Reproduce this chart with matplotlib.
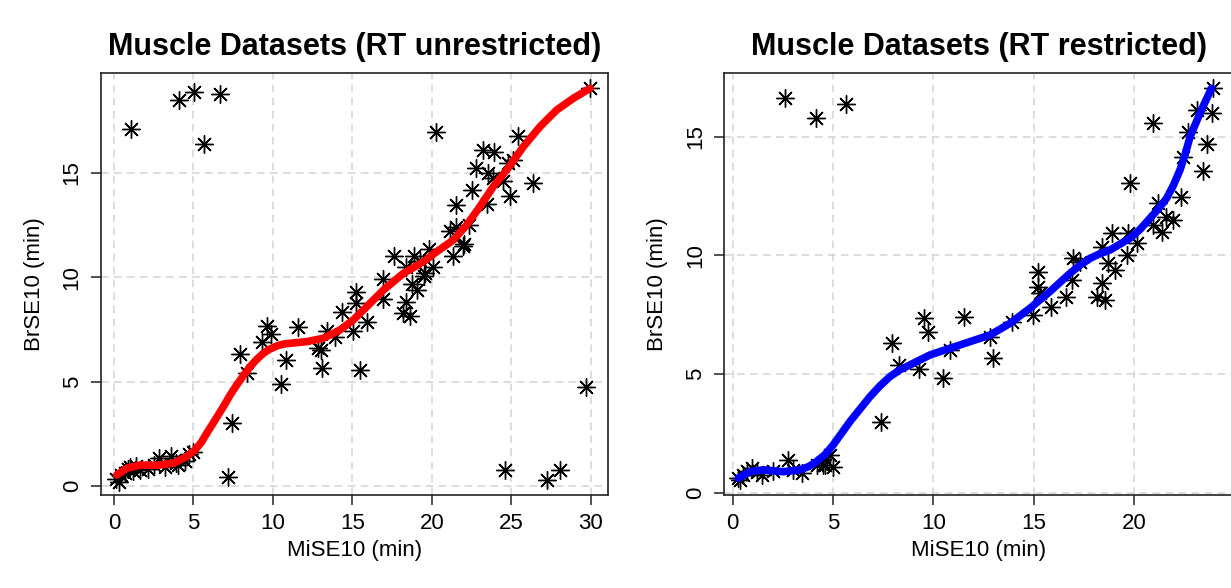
import matplotlib
matplotlib.use("Agg")
import matplotlib.pyplot as plt
import numpy as np

plt.rcParams['font.family'] = ['Liberation Sans', 'DejaVu Sans']

# --- left panel: RT unrestricted ---
unres_x = [1.05, 4.1, 5.05, 6.7, 5.65, 20.25, 25.45, 29.95, 29.7, 24.6, 27.25, 28.05, 7.2, 7.45,
           0.15, 0.3, 0.45, 0.7, 0.85, 1.0, 1.2, 1.4, 1.65, 2.15, 2.5, 2.8, 3.2, 3.6, 3.9, 4.05, 4.45, 4.7, 5.0,
           7.95, 8.35, 9.3, 9.6, 9.85, 10.5, 10.85, 11.6, 12.85, 13.0, 13.1, 13.4, 13.9, 14.35, 15.05,
           15.2, 15.25, 15.5, 15.9,
           16.95, 16.95, 17.6, 18.2, 18.4, 18.4, 18.6, 18.75, 18.9, 19.05, 19.25, 19.5, 19.6, 19.8, 20.1,
           21.15, 21.35, 21.5, 21.55, 21.95, 22.05, 22.35, 22.55, 22.8, 23.2, 23.45, 23.55, 23.9, 23.85,
           24.5, 24.8, 24.95, 25.1, 26.4]
unres_y = [17.1, 18.5, 18.9, 18.8, 16.4, 16.95, 16.75, 19.05, 4.75, 0.75, 0.3, 0.75, 0.45, 3.0,
           0.35, 0.2, 0.55, 0.6, 0.8, 0.9, 0.7, 0.95, 0.75, 0.8, 1.0, 1.35, 0.9, 1.45, 1.1, 1.0, 1.2, 1.55, 1.65,
           6.35, 5.4, 6.9, 7.65, 7.3, 4.9, 6.05, 7.6, 6.6, 6.5, 5.65, 7.45, 7.15, 8.35, 7.45,
           8.75, 9.3, 5.55, 7.85,
           9.9, 8.95, 11.0, 8.3, 8.8, 10.5, 8.15, 9.7, 11.0, 9.4, 10.8, 10.05, 10.2, 11.35, 10.5,
           12.2, 11.0, 13.45, 12.4, 11.5, 11.6, 12.5, 14.2, 15.25, 16.1, 13.5, 15.0, 16.0, 14.75,
           14.6, 15.5, 13.9, 15.6, 14.5]
unres_fit_x = [0.17, 0.8, 1.64, 2.69, 3.73, 4.57, 5.1, 5.5, 5.83, 6.35, 6.88, 7.3, 7.72, 8.15, 8.56,
               9.0, 9.4, 9.8, 10.24, 10.65, 11.08, 12.13, 13.17, 14.22, 15.06, 15.9, 16.95, 18.21,
               19.47, 20.31, 21.36, 22.2, 23.03, 23.87, 24.71, 25.76, 26.81, 27.86, 28.91, 29.96]
unres_fit_y = [0.53, 0.85, 1.0, 1.0, 1.09, 1.41, 1.73, 2.1, 2.52, 3.15, 3.8, 4.35, 4.84, 5.3, 5.72,
               6.08, 6.36, 6.56, 6.71, 6.8, 6.84, 6.92, 7.08, 7.48, 7.96, 8.59, 9.39, 10.19,
               10.75, 11.23, 11.79, 12.51, 13.39, 14.35, 15.14, 16.26, 17.22, 18.02, 18.58, 19.06]

# --- right panel: RT restricted ---
res_x = [2.61, 4.15, 5.64, 20.92, 19.79,
         23.94, 23.14, 23.89, 22.69, 23.64, 22.44, 23.41, 22.31, 21.2, 21.95, 21.36, 20.95, 21.6,
         20.12, 19.7, 19.62, 18.87, 18.38, 18.71, 19.04, 18.38, 18.16, 18.54, 16.97, 17.3, 16.88,
         16.6, 15.84, 15.22, 15.22, 15.3, 14.94, 13.9, 12.82, 12.98, 11.52, 10.82, 10.46, 9.53,
         9.74, 7.92, 8.3, 9.3, 7.4,
         0.36, 0.53, 0.95, 1.44, 2.02, 2.77, 3.02, 3.44, 4.18, 4.51, 4.85, 5.01, 0.28, 0.7, 1.2, 4.6]
res_y = [16.62, 15.77, 16.36, 15.59, 13.06,
         17.04, 16.12, 15.98, 15.21, 14.69, 14.16, 13.57, 12.47, 12.19, 11.49, 11.0, 11.28, 11.6,
         10.51, 10.93, 10.01, 10.93, 10.37, 9.66, 9.38, 8.82, 8.26, 8.12, 9.87, 9.73, 8.96,
         8.26, 7.81, 9.31, 8.68, 8.4, 7.49, 7.2, 6.57, 5.66, 7.42, 6.01, 4.82, 7.35,
         6.78, 6.32, 5.38, 5.2, 2.99,
         0.54, 0.75, 1.03, 0.75, 0.89, 1.38, 0.96, 0.82, 1.17, 1.17, 1.59, 1.1, 0.6, 0.9, 0.85, 1.17]
res_fit_x = [0.28, 0.86, 1.53, 2.52, 3.35, 3.8, 4.18, 4.6, 5.01, 5.84, 6.84, 7.34, 7.84, 8.33,
             8.83, 9.83, 10.82, 11.82, 12.82, 13.81, 14.81, 15.8, 16.8, 17.3, 17.8, 18.3, 18.79,
             19.79, 20.3, 20.78, 21.2, 21.61, 21.95, 22.28, 22.55, 22.78, 23.03, 23.27, 23.55, 23.85]
res_fit_y = [0.6, 0.88, 0.96, 0.88, 0.96, 1.1, 1.31, 1.6, 2.01, 2.99, 4.04, 4.5, 4.89, 5.17,
             5.38, 5.8, 6.08, 6.36, 6.64, 7.13, 7.77, 8.47, 9.24, 9.58, 9.87, 10.07, 10.22,
             10.72, 11.1, 11.56, 11.95, 12.4, 12.95, 13.6, 14.3, 15.0, 15.5, 15.98, 16.5, 17.04]

fig = plt.figure(figsize=(12.31, 5.88), dpi=100)
ax1 = fig.add_axes([0.0818, 0.1582, 0.4121, 0.7172])
ax2 = fig.add_axes([0.5881, 0.1582, 0.4139, 0.7172])


def style(ax, title, xticks, yticks, xlim, ylim):
    ax.set_xlim(xlim)
    ax.set_ylim(ylim)
    ax.set_xticks(xticks)
    ax.set_yticks(yticks)
    ax.grid(True, color='#d3d3d3', linestyle=(0, (5, 3.5)), linewidth=1.1, zorder=0)
    ax.set_axisbelow(True)
    for s in ax.spines.values():
        s.set_color('#222222')
        s.set_linewidth(1.2)
    ax.tick_params(direction='out', length=7, width=1.1, color='#222222',
                   labelsize=16, pad=6)
    plt.setp(ax.get_yticklabels(), rotation=90, va='center')
    ax.set_title(title, fontsize=22, fontweight='bold', pad=13)
    ax.set_xlabel('MiSE10 (min)', fontsize=16, labelpad=4)
    ax.set_ylabel('BrSE10 (min)', fontsize=16, labelpad=12)


ax1.plot(unres_x, unres_y, linestyle='none', marker=(8, 2, 0), markersize=13,
         markeredgewidth=1.0, color='black', zorder=2)
ax1.plot(unres_fit_x, unres_fit_y, color='#ff0000', linewidth=5.5,
         solid_capstyle='round', solid_joinstyle='round', zorder=3)
style(ax1, 'Muscle Datasets (RT unrestricted)', range(0, 31, 5), range(0, 16, 5),
      (-0.84, 31.09), (-0.43, 19.78))

ax2.plot(res_x, res_y, linestyle='none', marker=(8, 2, 0), markersize=13,
         markeredgewidth=1.0, color='black', zorder=2)
ax2.plot(res_fit_x, res_fit_y, color='#0000ff', linewidth=5.5,
         solid_capstyle='round', solid_joinstyle='round', zorder=3)
style(ax2, 'Muscle Datasets (RT restricted)', range(0, 21, 5), range(0, 16, 5),
      (-0.43, 24.94), (-0.1, 17.67))

fig.savefig('out.png', dpi=100)
